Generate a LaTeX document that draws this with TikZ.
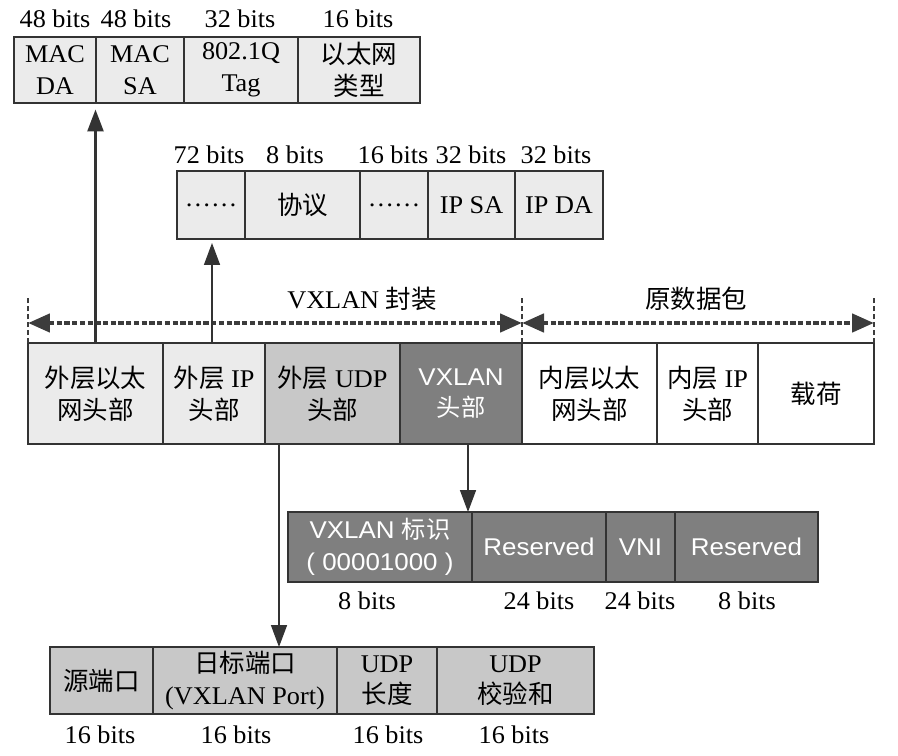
\documentclass[tikz,border=0pt]{standalone}
\usepackage{fontspec}
\setmainfont{Liberation Serif}[FakeStretch=1.03]
\setsansfont{Liberation Sans}[FakeStretch=1.07]
\newfontfamily\cjk{Noto Sans CJK SC}[Scale=1.0]
\usetikzlibrary{arrows.meta}
\definecolor{lightc}{HTML}{EBEBEB}
\definecolor{midc}{HTML}{C8C8C8}
\definecolor{darkc}{HTML}{7F7F7F}
\definecolor{linec}{HTML}{333333}
\definecolor{dashc}{HTML}{3C3C3C}
\newcommand\cellbox[7]{\node[#6, minimum width={(#4-#2)*0.02cm}, minimum height={(#5-#3)*0.02cm}] (#1) at ({(#2+#4)/2},{(#3+#5)/2}) {#7};}
\begin{document}
\begin{tikzpicture}[x=0.02cm,y=-0.02cm,
  cell/.style={draw=linec, line width=1.2pt, inner sep=0pt, outer sep=0pt, align=center, text=black,
    font=\fontsize{14.5}{18}\selectfont},
  lightcell/.style={cell, fill=lightc},
  midcell/.style={cell, fill=midc},
  darkcell/.style={cell, fill=darkc, text=white, font=\sffamily\fontsize{13.8}{18}\selectfont},
  whitecell/.style={cell, fill=white},
  bitlbl/.style={inner sep=0pt, text=black, font=\fontsize{14.5}{16}\selectfont},
  toplbl/.style={inner sep=0pt, text=black, font=\fontsize{14.5}{16}\selectfont},
  arrowtip/.style={-{Triangle[length=0.44cm,width=0.32cm]}},
  thickarr/.style={arrowtip, draw=linec, line width=1.5pt},
  thinarr/.style={arrowtip, draw=linec, line width=0.9pt},
  dasharr/.style={{Triangle[length=0.44cm,width=0.36cm]}-{Triangle[length=0.44cm,width=0.36cm]}, draw=dashc, line width=2.6pt, dash pattern=on 3pt off 1.4pt},
  tickline/.style={draw=dashc, line width=1.6pt, dash pattern=on 3pt off 1.5pt}
]
\useasboundingbox (0,0) rectangle (898,756);

% MAC header
\cellbox{mda}{14}{37}{96}{103}{lightcell}{MAC\\DA}
\cellbox{msa}{96}{37}{184}{103}{lightcell}{MAC\\SA}
\cellbox{mtag}{184}{37}{298}{103}{lightcell}{802.1Q\\Tag}
\cellbox{mtype}{298}{37}{420}{103}{lightcell}{{\cjk 以太网}\\{\cjk 类型}}
\node[bitlbl] (bm1) at (55,19) {48 bits};
\node[bitlbl] (bm2) at (136,19) {48 bits};
\node[bitlbl] (bm3) at (240,19) {32 bits};
\node[bitlbl] (bm4) at (358,19) {16 bits};

% IP header
\cellbox{ip1}{177}{171}{245}{239}{lightcell}{\ldots\ldots}
\cellbox{ip2}{245}{171}{360}{239}{lightcell}{{\cjk 协议}}
\cellbox{ip3}{360}{171}{428}{239}{lightcell}{\ldots\ldots}
\cellbox{ip4}{428}{171}{515}{239}{lightcell}{IP SA}
\cellbox{ip5}{515}{171}{603}{239}{lightcell}{IP DA}
\node[bitlbl] (bi1) at (209,155) {72 bits};
\node[bitlbl] (bi2) at (295,155) {8 bits};
\node[bitlbl] (bi3) at (393,155) {16 bits};
\node[bitlbl] (bi4) at (471,155) {32 bits};
\node[bitlbl] (bi5) at (556,155) {32 bits};

% main row
\cellbox{oeth}{28}{343}{163}{444}{lightcell}{{\cjk 外层以太}\\{\cjk 网头部}}
\cellbox{oip}{163}{343}{265}{444}{lightcell}{{\cjk 外层} IP\\{\cjk 头部}}
\cellbox{oudp}{265}{343}{400}{444}{midcell}{{\cjk 外层} UDP\\{\cjk 头部}}
\cellbox{vxh}{400}{343}{522}{444}{darkcell}{VXLAN\\{\cjk 头部}}
\cellbox{ieth}{522}{343}{657}{444}{whitecell}{{\cjk 内层以太}\\{\cjk 网头部}}
\cellbox{iip}{657}{343}{758}{444}{whitecell}{{\cjk 内层} IP\\{\cjk 头部}}
\cellbox{pay}{758}{343}{874}{444}{whitecell}{{\cjk 载荷}}

% span markers
\draw[tickline] (oeth.north west) -- ++(0,-46);
\draw[tickline] (vxh.north east) -- ++(0,-46);
\draw[tickline] (pay.north east) -- ++(0,-46);
\draw[dasharr] ([yshift=0.4cm]oeth.north west) -- ([yshift=0.4cm]vxh.north east);
\draw[dasharr] ([yshift=0.4cm]ieth.north west) -- ([yshift=0.4cm]pay.north east);
\node[toplbl] (lenc) at (362,299) {VXLAN {\cjk 封装}};
\node[toplbl] (lorig) at (696,299) {{\cjk 原数据包}};

% VXLAN header
\cellbox{vflag}{288}{512}{472}{582}{darkcell}{VXLAN {\cjk 标识}\\( 00001000 )}
\cellbox{vres1}{472}{512}{606}{582}{darkcell}{Reserved}
\cellbox{vvni}{606}{512}{675}{582}{darkcell}{VNI}
\cellbox{vres2}{675}{512}{818}{582}{darkcell}{Reserved}
\node[bitlbl] (bv1) at (367,601) {8 bits};
\node[bitlbl] (bv2) at (539,601) {24 bits};
\node[bitlbl] (bv3) at (640,601) {24 bits};
\node[bitlbl] (bv4) at (747,601) {8 bits};

% UDP header
\cellbox{usrc}{50}{647}{153}{714}{midcell}{{\cjk 源端口}}
\cellbox{udst}{153}{647}{337}{714}{midcell}{{\cjk 日标端口}\\(VXLAN Port)}
\cellbox{ulen}{337}{647}{437}{714}{midcell}{UDP\\{\cjk 长度}}
\cellbox{usum}{437}{647}{594}{714}{midcell}{UDP\\{\cjk 校验和}}
\node[bitlbl] (bu1) at (100,735) {16 bits};
\node[bitlbl] (bu2) at (236,735) {16 bits};
\node[bitlbl] (bu3) at (388,735) {16 bits};
\node[bitlbl] (bu4) at (514,735) {16 bits};

% connectors
\draw[thickarr, shorten >=0.13cm] (oeth.north) -- (oeth.north |- mda.south);
\draw[thinarr, shorten >=0.08cm] ([xshift=-0.04cm]oip.north) -- ([xshift=-0.04cm]oip.north |- ip1.south);
\draw[thinarr] ([xshift=0.28cm]oudp.south west) -- ([xshift=0.28cm]oudp.south west |- udst.north);
\draw[thinarr] ([xshift=-0.08cm]vflag.north east |- vxh.south) -- ([xshift=-0.08cm]vflag.north east);
\end{tikzpicture}
\end{document}
